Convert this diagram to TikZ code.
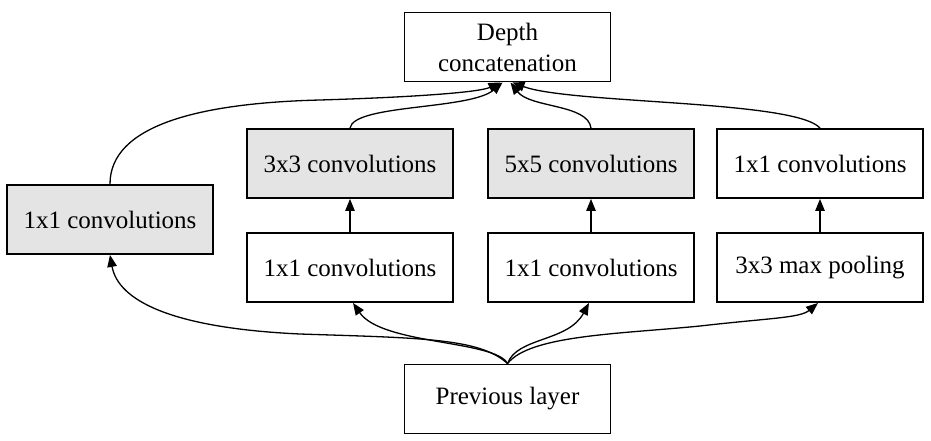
\documentclass[tikz,border=0pt]{standalone}
\usepackage{fontspec}
\setmainfont{Liberation Serif}
\usetikzlibrary{arrows.meta}
\definecolor{boxgray}{HTML}{E4E4E4}
\tikzset{
  layerbox/.style={draw=black, line width=1.9pt, fill=white, minimum width=206pt, minimum height=69pt, inner sep=0pt, align=center, font=\fontsize{25}{31}\selectfont},
  graybox/.style={layerbox, fill=boxgray},
  flow/.style={line width=1.3pt, -{Triangle[length=12pt,width=9.5pt]}}
}
\begin{document}
\begin{tikzpicture}[x=1pt,y=-1pt]
\useasboundingbox (0,0) rectangle (931,441);
% nodes
\node[layerbox] (depth) at (507.5,47) {Depth\\concatenation};
\node[graybox]  (left)  at (110,219.5) {1x1 convolutions};
\node[graybox]  (c3)    at (350,163.5) {3x3 convolutions};
\node[graybox]  (c5)    at (591,163.5) {5x5 convolutions};
\node[layerbox] (cr)    at (820,163.5) {1x1 convolutions};
\node[layerbox] (r1)    at (350,267.5) {1x1 convolutions};
\node[layerbox] (r2)    at (591,267.5) {1x1 convolutions};
\node[layerbox] (pool)  at (820,267.5) {3x3 max pooling};
\node[layerbox] (prev)  at (507.5,399) {Previous layer};
% bottom fan-out
\draw[flow] (prev.north) .. controls (480,338) and (420,338) .. (300,334)
   .. controls (170,328) and (118,300) .. (left.south);
\draw[flow] (prev.north) .. controls (495,340) and (382,345) .. ([xshift=3pt]r1.south);
\draw[flow] (prev.north) .. controls (517,337) and (568,342) .. ([xshift=-2pt]r2.south);
\draw[flow] (prev.north) .. controls (530,335) and (620,334) .. (700,326)
   .. controls (770,318) and (800,318) .. ([xshift=-2pt]pool.south);
% vertical links
\draw[flow] (r1.north) -- (c3.south);
\draw[flow] (r2.north) -- (c5.south);
\draw[flow] (pool.north) -- (cr.north |- cr.south);
% fan-in
\draw[flow] (left.north) .. controls (110,125) and (200,103) .. (320,100)
   .. controls (420,97) and (480,92) .. ([xshift=-7pt]depth.south);
\draw[flow] (c3.north) .. controls (354,104) and (470,110) .. ([xshift=-5pt]depth.south);
\draw[flow] (c5.north) .. controls (588,104) and (530,108) .. ([xshift=3pt]depth.south);
\draw[flow] (cr.north) .. controls (795,100) and (570,104) .. ([xshift=5pt]depth.south);
\end{tikzpicture}
\end{document}
